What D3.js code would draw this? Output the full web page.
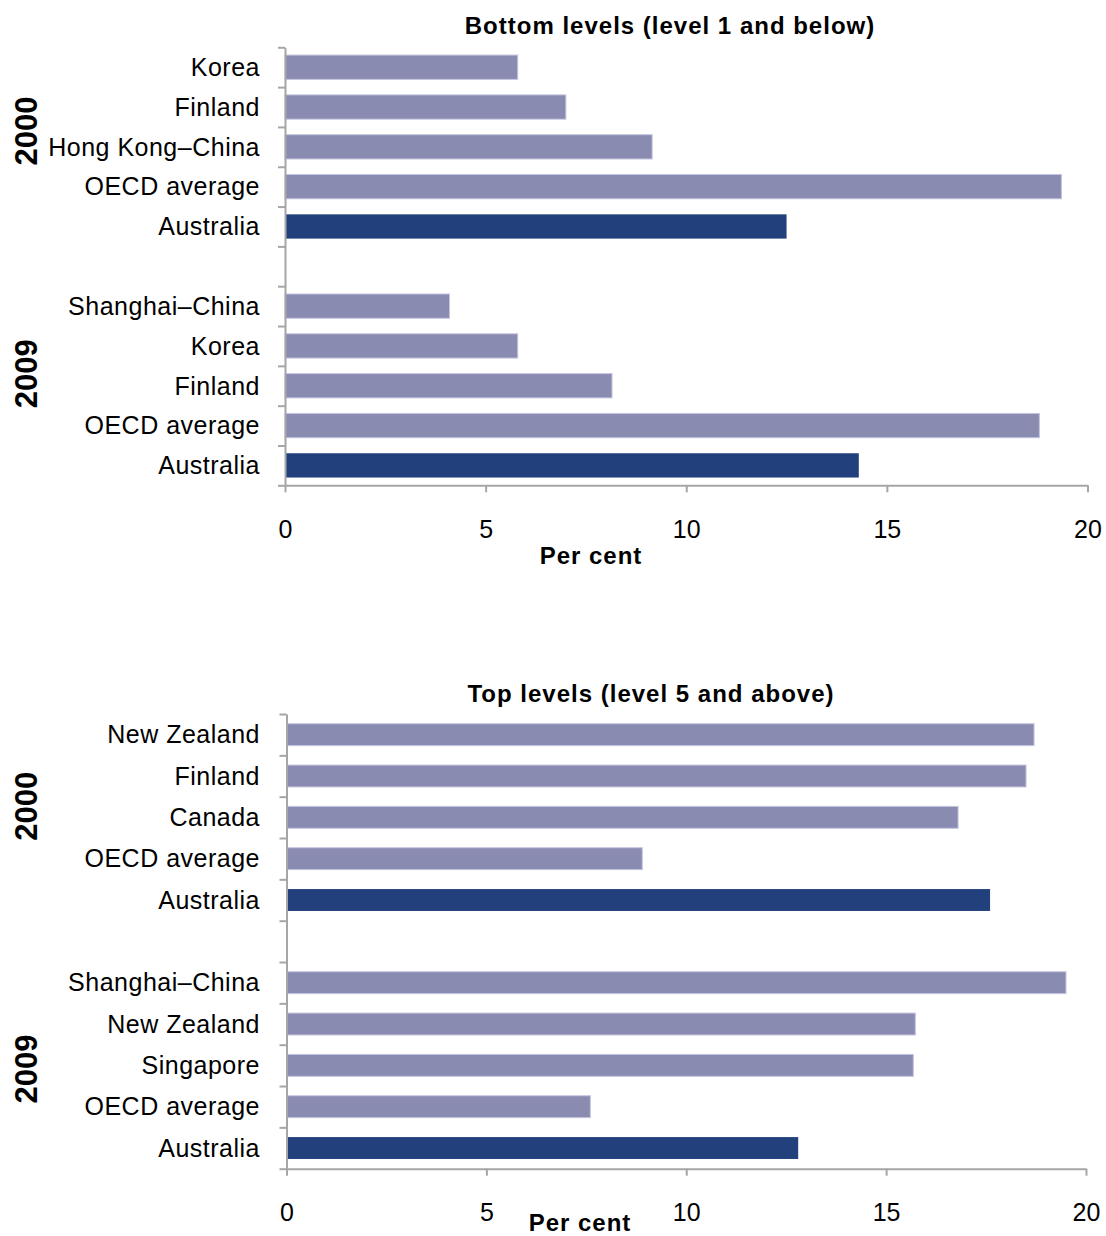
<!DOCTYPE html>
<html>
<head>
<meta charset="utf-8">
<script src="https://cdn.jsdelivr.net/npm/d3@7"></script>
<style>
  html, body { margin: 0; padding: 0; background: #ffffff; }
  svg { display: block; font-family: "Liberation Sans", Arial, sans-serif; }
</style>
</head>
<body>
<svg id="chart" width="1106" height="1236"></svg>
<script>
// ---------------- DATA ----------------
const bottomTitle = "Bottom levels (level 1 and below)";
const bottomCategories2000 = ["Korea", "Finland", "Hong Kong\u2013China", "OECD average", "Australia"];
const bottomValues2000     = [5.8, 7.0, 9.15, 19.35, 12.5];
const bottomCategories2009 = ["Shanghai\u2013China", "Korea", "Finland", "OECD average", "Australia"];
const bottomValues2009     = [4.1, 5.8, 8.15, 18.8, 14.3];

const topTitle = "Top levels (level 5 and above)";
const topCategories2000 = ["New Zealand", "Finland", "Canada", "OECD average", "Australia"];
const topValues2000     = [18.7, 18.5, 16.8, 8.9, 17.6];
const topCategories2009 = ["Shanghai\u2013China", "New Zealand", "Singapore", "OECD average", "Australia"];
const topValues2009     = [19.5, 15.73, 15.68, 7.6, 12.8];

const yearLabels = ["2000", "2009"];
const xTicks = [0, 5, 10, 15, 20];
const xDomain = [0, 20];
const axisTitle = "Per cent";

// ---------------- STYLE ----------------
const LIGHT = "#8a8bb1";
const LIGHT_EDGE = "#c4c5df";
const DARK = "#22407c";
const AXIS = "#a6a6a6";

const svg = d3.select("#chart");

function buildRows(c1, v1, c2, v2) {
  const rows = [];
  c1.forEach((c, i) => rows.push({ key: "a" + i, label: c, value: v1[i], highlight: c === "Australia" }));
  rows.push({ key: "gap", label: "", value: null });
  c2.forEach((c, i) => rows.push({ key: "b" + i, label: c, value: v2[i], highlight: c === "Australia" }));
  return rows;
}

function drawPanel(cfg) {
  const rows = cfg.rows;
  const g = svg.append("g");

  const x = d3.scaleLinear().domain(xDomain).range([cfg.x0, cfg.x1]);
  const yBand = d3.scaleBand().domain(rows.map(r => r.key)).range([cfg.y0, cfg.y1])
    .paddingInner(cfg.pad).paddingOuter(cfg.pad / 2);
  const yEdge = d3.scaleLinear().domain([0, rows.length]).range([cfg.y0, cfg.y1]);

  // bars
  g.selectAll("rect.bar").data(rows.filter(r => r.value !== null)).join("rect")
    .attr("class", "bar")
    .attr("x", x(0))
    .attr("y", d => yBand(d.key))
    .attr("width", d => x(d.value) - x(0))
    .attr("height", yBand.bandwidth())
    .attr("fill", d => d.highlight ? DARK : LIGHT)
    .attr("stroke", d => d.highlight ? "none" : LIGHT_EDGE)
    .attr("stroke-width", 1);

  // y axis (ticks at category boundaries)
  const yAxis = g.append("g").attr("transform", `translate(${x(0)},0)`)
    .call(d3.axisLeft(yEdge).tickValues(d3.range(rows.length + 1)).tickSize(7).tickSizeOuter(0).tickFormat(""));
  yAxis.selectAll("path, line").attr("stroke", AXIS).attr("stroke-width", 2);

  // x axis
  const xAxis = g.append("g").attr("transform", `translate(0,${cfg.y1})`)
    .call(d3.axisBottom(x).tickValues(xTicks).tickSize(7).tickSizeOuter(0).tickPadding(28).tickFormat(d3.format("d")));
  xAxis.selectAll("path, line").attr("stroke", AXIS).attr("stroke-width", 2);
  xAxis.selectAll("text").attr("font-size", 25).attr("fill", "#000")
    .attr("font-family", "'Liberation Sans', Arial, sans-serif");

  // category labels
  g.selectAll("text.cat").data(rows.filter(r => r.value !== null)).join("text")
    .attr("class", "cat")
    .attr("x", cfg.labelX)
    .attr("y", d => yBand(d.key) + yBand.bandwidth() / 2)
    .attr("dy", "0.35em")
    .attr("text-anchor", "end")
    .attr("font-size", 25)
    .attr("letter-spacing", 0.5)
    .attr("fill", "#000")
    .text(d => d.label);

  // year labels
  yearLabels.forEach((yr, i) => {
    g.append("text")
      .attr("transform", `translate(37,${yEdge(cfg.yearPos[i])}) rotate(-90)`)
      .attr("text-anchor", "middle")
      .attr("font-size", 31)
      .attr("font-weight", "bold")
      .attr("fill", "#000")
      .text(yr);
  });

  // title
  g.append("text")
    .attr("x", cfg.titleX).attr("y", cfg.titleY)
    .attr("text-anchor", "middle")
    .attr("font-size", 24).attr("font-weight", "bold")
    .attr("letter-spacing", 1)
    .attr("fill", "#000")
    .text(cfg.title);

  // axis title
  g.append("text")
    .attr("x", cfg.unitX).attr("y", cfg.unitY)
    .attr("text-anchor", "middle")
    .attr("font-size", 24).attr("font-weight", "bold")
    .attr("letter-spacing", 1)
    .attr("fill", "#000")
    .text(axisTitle);
}

drawPanel({
  rows: buildRows(bottomCategories2000, bottomValues2000, bottomCategories2009, bottomValues2009),
  title: bottomTitle,
  x0: 285, x1: 1087.5, y0: 47.3, y1: 485.3, pad: 0.39,
  labelX: 260, titleX: 670, titleY: 34, unitX: 591, unitY: 564,
  yearPos: [2.1, 8.2]
});

drawPanel({
  rows: buildRows(topCategories2000, topValues2000, topCategories2009, topValues2009),
  title: topTitle,
  x0: 286.5, x1: 1086, y0: 714, y1: 1168.7, pad: 0.47,
  labelX: 260, titleX: 651, titleY: 702, unitX: 580, unitY: 1231,
  yearPos: [2.23, 8.59]
});
</script>
</body>
</html>
